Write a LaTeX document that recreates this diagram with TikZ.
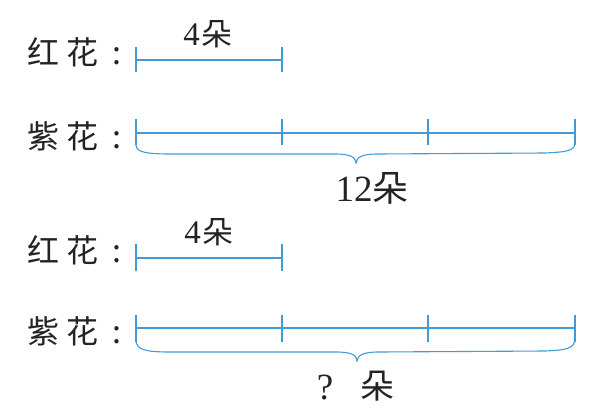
\documentclass[tikz,border=0pt]{standalone}
\usepackage{fontspec}
\setmainfont{Liberation Serif}
\newfontfamily\cjk{Noto Sans CJK SC}
\usetikzlibrary{calc}
\definecolor{lineblue}{RGB}{64,155,215}
\definecolor{ink}{RGB}{35,35,35}
\begin{document}
\begin{tikzpicture}[x=1pt,y=-1pt,
  bl/.style={draw=lineblue,line width=1.1pt},
  lab/.style={anchor=west,inner sep=0pt,text=ink,font=\cjk\fontsize{32}{32}\selectfont},
  small/.style={inner sep=0pt,text=ink,font=\fontsize{33}{33}\selectfont},
  big/.style={inner sep=0pt,text=ink,font=\fontsize{37}{37}\selectfont}]
\useasboundingbox (0,0) rectangle (604,415);
% ---------- top group ----------
\node[lab] (l1) at (27,52) {红\hspace{7pt}花\hspace{14pt}:};
\node[lab] (l2) at (27,136) {紫\hspace{7pt}花\hspace{14pt}:};
\coordinate (a0) at (136,60);
\coordinate (a1) at (282,60);
\draw[bl] (a0) -- (a1);
\foreach \c in {a0,a1} \draw[bl] ($(\c)+(0,-13)$) -- ($(\c)+(0,12)$);
\node[small] (t1) at (208,34) {4\hspace{2pt}{\cjk\fontsize{31}{31}\selectfont 朵}};
\coordinate (b0) at (136,133);
\coordinate (b1) at (282,133);
\coordinate (b2) at (428,133);
\coordinate (b3) at (575,133);
\draw[bl] (b0) -- (b3);
\foreach \c in {b0,b1,b2,b3} \draw[bl] ($(\c)+(0,-14)$) -- ($(\c)+(0,12)$);
\coordinate (btip) at (356,163);
\draw[bl] ($(b0)+(0,12)$) .. controls (136,152) and (146,154) .. (170,154)
  -- (335,154) .. controls (350,154) and (356,157) .. (btip)
  .. controls (357,157) and (362,154) .. (378,154)
  -- (545,153) .. controls (566,152) and (575,151) .. ($(b3)+(0,10)$);
\node[big] (t2) at (372,188) {12{\cjk\fontsize{36}{36}\selectfont 朵}};
% ---------- bottom group ----------
\node[lab] (l3) at (27,250) {红\hspace{7pt}花\hspace{14pt}:};
\node[lab] (l4) at (27,331) {紫\hspace{7pt}花\hspace{14pt}:};
\coordinate (c0) at (136,258);
\coordinate (c1) at (282,258);
\draw[bl] (c0) -- (c1);
\foreach \c in {c0,c1} \draw[bl] ($(\c)+(0,-14)$) -- ($(\c)+(0,13)$);
\node[small] (t3) at (209,232) {4\hspace{2pt}{\cjk\fontsize{31}{31}\selectfont 朵}};
\coordinate (d0) at (136,328);
\coordinate (d1) at (282,328);
\coordinate (d2) at (428,328);
\coordinate (d3) at (575,328);
\draw[bl] (d0) -- (d3);
\foreach \c in {d0,d1,d2,d3} \draw[bl] ($(\c)+(0,-13)$) -- ($(\c)+(0,14)$);
\coordinate (dtip) at (357,361);
\draw[bl] ($(d0)+(0,12)$) .. controls (136,350) and (146,352) .. (170,352)
  -- (336,352) .. controls (351,352) and (357,355) .. (dtip)
  .. controls (358,355) and (363,352) .. (379,352)
  -- (545,351) .. controls (566,350) and (575,349) .. ($(d3)+(0,10)$);
\node[big] (q) at (325,388) {?};
\node[inner sep=0pt,text=ink,font=\cjk\fontsize{34}{34}\selectfont] (t4) at (377,386) {朵};
\end{tikzpicture}
\end{document}
